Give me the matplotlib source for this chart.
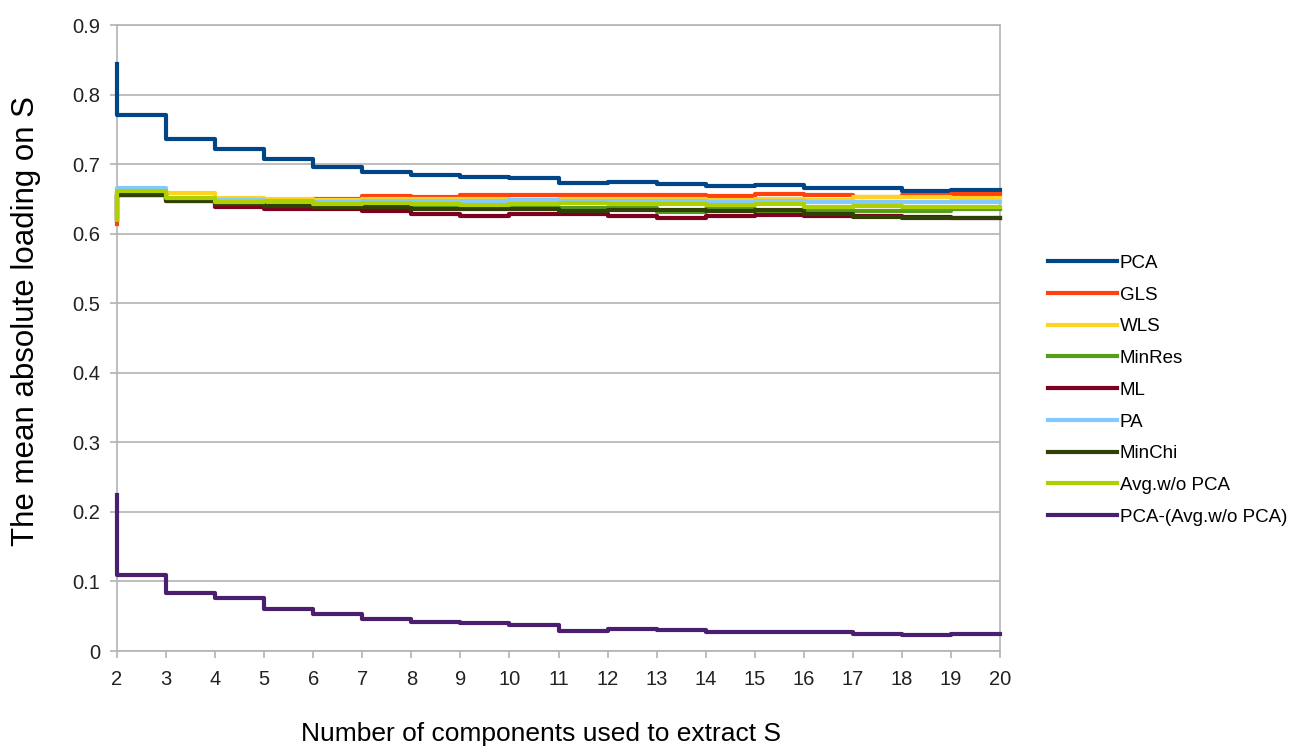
import numpy as np
import matplotlib as mpl
import matplotlib.pyplot as plt

## === Data === ##

n_components = list(range(2, 21))

pca = [0.844, 0.771, 0.736, 0.722, 0.708, 0.696, 0.689, 0.685, 0.682, 0.680,
       0.673, 0.675, 0.672, 0.668, 0.670, 0.666, 0.665, 0.662, 0.663]
gls = [0.614, 0.655, 0.650, 0.648, 0.646, 0.650, 0.654, 0.653, 0.655, 0.655,
       0.655, 0.656, 0.655, 0.654, 0.657, 0.655, 0.653, 0.655, 0.657]
wls = [0.630, 0.664, 0.658, 0.652, 0.650, 0.649, 0.650, 0.650, 0.650, 0.649,
       0.650, 0.650, 0.650, 0.649, 0.650, 0.648, 0.653, 0.653, 0.652]
minres = [0.625, 0.658, 0.648, 0.642, 0.641, 0.640, 0.640, 0.638, 0.638, 0.637,
          0.637, 0.637, 0.631, 0.636, 0.632, 0.634, 0.633, 0.632, 0.635]
ml = [0.620, 0.655, 0.647, 0.638, 0.636, 0.635, 0.633, 0.629, 0.625, 0.628,
      0.629, 0.626, 0.622, 0.626, 0.627, 0.626, 0.625, 0.624, 0.623]
pa = [0.630, 0.666, 0.650, 0.648, 0.646, 0.646, 0.647, 0.647, 0.647, 0.648,
      0.647, 0.647, 0.647, 0.646, 0.647, 0.646, 0.646, 0.646, 0.646]
minchi = [0.620, 0.655, 0.647, 0.643, 0.640, 0.638, 0.638, 0.636, 0.635, 0.636,
          0.633, 0.634, 0.634, 0.633, 0.634, 0.628, 0.624, 0.622, 0.622]
avg_wo_pca = [0.620, 0.661, 0.652, 0.646, 0.647, 0.643, 0.644, 0.643, 0.641, 0.643,
              0.644, 0.643, 0.642, 0.641, 0.643, 0.639, 0.640, 0.639, 0.638]
pca_minus_avg = [0.224, 0.110, 0.084, 0.076, 0.061, 0.053, 0.046, 0.042, 0.041, 0.037,
                 0.029, 0.032, 0.030, 0.027, 0.027, 0.027, 0.025, 0.023, 0.025]

series = [
    ("PCA", pca, "#004586"),
    ("GLS", gls, "#ff420e"),
    ("WLS", wls, "#ffd320"),
    ("MinRes", minres, "#579d1c"),
    ("ML", ml, "#7e0021"),
    ("PA", pa, "#83caff"),
    ("MinChi", minchi, "#314004"),
    ("Avg.w/o PCA", avg_wo_pca, "#aecf00"),
    ("PCA-(Avg.w/o PCA)", pca_minus_avg, "#4b1f6f"),
]

## === Plot === ##

plt.rcParams["font.family"] = ["Liberation Sans", "DejaVu Sans"]
grid_grey = "#b3b3b3"

fig = plt.figure(figsize=(13.05, 7.49), dpi=100)
ax = fig.add_axes([0.0897, 0.1308, 0.6766, 0.8358])

for name, values, colour in series:
    ax.plot(n_components, values, drawstyle="steps-pre", color=colour,
            linewidth=3, label=name, clip_on=False, zorder=3)

ax.set_xlim(2, 20)
ax.set_ylim(0, 0.9)
ax.set_xticks(n_components)
ax.set_yticks(np.arange(0, 0.91, 0.1))
ax.set_yticklabels(["0"] + [f"{v:.1f}" for v in np.arange(0.1, 0.91, 0.1)])

ax.grid(axis="y", color=grid_grey, linewidth=1.2)
ax.set_axisbelow(True)
for side in ["left", "right", "bottom", "top"]:
    ax.spines[side].set_color(grid_grey)
    ax.spines[side].set_linewidth(1.2)
    ax.spines[side].set_zorder(1)

ax.tick_params(axis="both", direction="out", length=5, width=1.2, color=grid_grey,
               labelsize=14.5, labelcolor="#222222")
ax.tick_params(axis="x", pad=9)
ax.tick_params(axis="y", pad=7)

fig.text(0.4145, 0.011, "Number of components used to extract S", fontsize=19,
         ha="center", va="baseline")
fig.text(0.020, 0.571, "The mean absolute loading on S", fontsize=22.5,
         rotation=90, ha="center", va="center")

fig.legend(loc="center left", bbox_to_anchor=(0.803, 0.479), frameon=False,
           fontsize=13.5, handlelength=3.7, handletextpad=0.12, labelspacing=0.78,
           borderpad=0, borderaxespad=0)

plt.savefig("out.png", dpi=100)
